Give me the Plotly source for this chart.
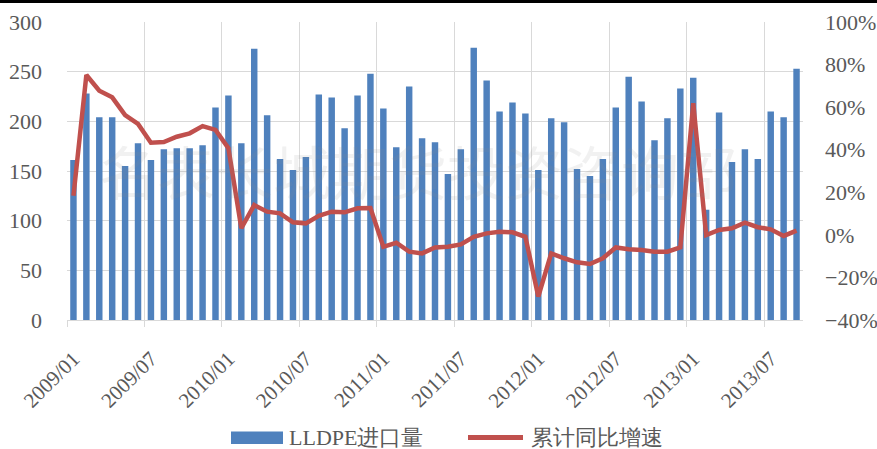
import plotly.graph_objects as go

# ---- data ----
months = [f"{y}/{m:02d}" for y in range(2009, 2014) for m in range(1, 13)][:57]

imports = [161, 228, 204, 204, 155, 178, 161, 172, 173, 173, 176, 214,
           226, 178, 273, 206, 162, 151, 164, 227, 224, 193, 226, 248,
           213, 174, 235, 183, 179, 147, 172, 274, 241, 210, 219, 208,
           151, 203, 199, 152, 145, 162, 214, 245, 220, 181, 203, 233,
           244, 111, 209, 159, 172, 162, 210, 204, 253]

growth = [18.4, 75.1, 67.7, 64.6, 56.3, 52.1, 43.3, 43.6, 46.1, 47.7, 51.1, 49.3,
          40.7, 3.1, 14.0, 10.9, 10.1, 5.9, 5.4, 8.9, 10.9, 10.6, 12.5, 12.6,
          -5.6, -3.7, -7.9, -8.7, -5.9, -5.6, -4.5, -0.9, 0.7, 1.5, 1.2, -0.9,
          -29.0, -8.7, -11.0, -12.9, -13.7, -11.0, -5.9, -6.8, -7.1, -7.9, -7.9, -5.9,
          61.8, -0.1, 2.3, 3.1, 5.7, 3.6, 2.6, -0.5, 2.0]
growth_frac = [g / 100 for g in growth]

bar_name = "LLDPE进口量"
line_name = "累计同比增速"
watermark = "名表长城期货投资咨询部"

BLUE = "#4F81BD"
RED = "#C0504D"
GRID = "#D9D9D9"
TXT = "#595959"
FONT = "Liberation Serif"

fig = go.Figure()
fig.add_trace(go.Bar(x=months, y=imports, name=bar_name, marker_color=BLUE,
                     marker_line_width=0, yaxis="y"))
fig.add_trace(go.Scatter(x=months, y=growth_frac, name=line_name, mode="lines",
                         line=dict(color=RED, width=4.5), yaxis="y2"))

L, R, T, B = 67, 74, 22, 129
W, H = 877, 449
pw, ph = W - L - R, H - T - B

def px(x):
    return (x - L) / pw

def py(y):
    return (H - B - y) / ph

fig.update_layout(
    width=W, height=H,
    margin=dict(l=L, r=R, t=T, b=B, autoexpand=False),
    paper_bgcolor="white", plot_bgcolor="white",
    showlegend=False,
    bargap=0.5,
    font=dict(family=FONT, color=TXT, size=21),
    xaxis=dict(type="category", dtick=6, tick0=0, tickson="boundaries",
               tickangle=-45, showgrid=True, gridcolor=GRID, gridwidth=1.3,
               showline=True, linecolor=GRID, linewidth=1.3,
               ticks="outside", ticklen=6, tickcolor=GRID, tickwidth=1.3,
               automargin=False, ticklabelstandoff=17,
               tickfont=dict(size=21, family=FONT, color=TXT),
               range=[-0.5, len(months) - 0.5]),
    yaxis=dict(range=[0, 300], dtick=50, showgrid=True, gridcolor=GRID,
               gridwidth=1.3, zeroline=False, showline=False, ticks="",
               ticklabelstandoff=24, automargin=False,
               tickfont=dict(size=22, family=FONT, color=TXT)),
    yaxis2=dict(range=[-0.4, 1.0], dtick=0.2, tickformat=".0%", overlaying="y",
                side="right", showgrid=False, zeroline=False, showline=False,
                ticks="", ticklabelstandoff=21, automargin=False,
                tickfont=dict(size=22, family=FONT, color=TXT)),
    shapes=[
        dict(type="line", xref="paper", yref="paper", x0=px(0), x1=px(W),
             y0=py(1.5), y1=py(1.5), line=dict(color="black", width=3)),
        dict(type="rect", xref="paper", yref="paper", x0=px(231), x1=px(283),
             y0=py(444), y1=py(431.5), fillcolor=BLUE, line_width=0),
        dict(type="line", xref="paper", yref="paper", x0=px(468), x1=px(523),
             y0=py(437.5), y1=py(437.5), line=dict(color=RED, width=5)),
    ],
    annotations=[
        dict(text=bar_name, xref="paper", yref="paper", x=px(287), y=py(437.5),
             xanchor="left", yanchor="middle", showarrow=False,
             font=dict(size=22, family=FONT, color=TXT)),
        dict(text=line_name, xref="paper", yref="paper", x=px(529), y=py(437.5),
             xanchor="left", yanchor="middle", showarrow=False,
             font=dict(size=22, family=FONT, color=TXT)),
        dict(text=watermark, xref="paper", yref="paper", x=px(418), y=py(170),
             xanchor="center", yanchor="middle", showarrow=False,
             font=dict(size=58, family="Noto Sans CJK SC", color="rgba(140,140,140,0.12)")),
    ],
)

fig.write_html("out.html", config={"displayModeBar": False},
               post_script="document.body.style.margin='0';")
